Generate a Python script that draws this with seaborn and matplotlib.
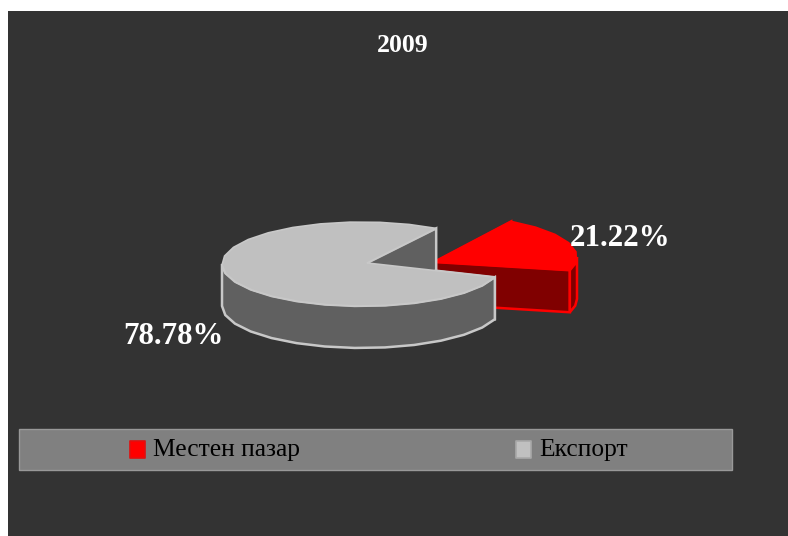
import numpy as np
import matplotlib
matplotlib.use('Agg')
import matplotlib.pyplot as plt
from matplotlib.patches import Rectangle, Polygon
import seaborn as sns

# Datos
categories = ['Местен пазар', 'Експорт']
shares = [21.22, 78.78]
share_labels = ['21.22%', '78.78%']
chart_title = '2009'

sns.set_theme(style='white')
plt.rcParams['font.family'] = ['Liberation Serif', 'DejaVu Serif']

top_colors = sns.color_palette(['#ff0000', '#c0c0c0'])
side_colors = sns.color_palette(['#800000', '#606060'])
edge_colors = sns.color_palette(['#ff0000', '#c8c8c8'])
handle_edges = sns.color_palette(['#e01010', '#a8a8a8'])

# Geometria del pastel, en pixeles de la figura
apex_x = [434, 367]
apex_y = [262, 263]
rim_x = [437, 362]
rim_y = [257, 264]
rx, ry = 140, 42
depth = 42
start_angle = 58
arc_step = 12

fig = plt.figure(figsize=(7.88, 5.36), dpi=100, facecolor='white')
ax = fig.add_axes([0, 0, 1, 1])
ax.set_xlim(0, 788)
ax.set_ylim(536, 0)
ax.axis('off')

ax.add_patch(Rectangle((8, 11), 780, 525, fc='#333333', ec='none', zorder=0))


def arc(x0, y0, a1, a2):
    # puntos del borde eliptico entre dos angulos (a1 > a2)
    n = max(int((a1 - a2) / arc_step), 2)
    t = np.radians(np.linspace(a1, a2, n + 1))
    return np.column_stack([x0 + rx * np.cos(t), y0 - ry * np.sin(t)])


def draw_slice(i, a1, a2, z):
    apex = np.array([apex_x[i], apex_y[i]])
    down = np.array([0, depth])
    rim = arc(rim_x[i], rim_y[i], a1, a2)
    top, side, edge = top_colors[i], side_colors[i], edge_colors[i]
    # paredes interiores
    for end in (rim[0], rim[-1]):
        pts = [apex, end, end + down, apex + down]
        ax.add_patch(Polygon(pts, fc=side, ec=edge, lw=1.8, zorder=z))
    # pared exterior visible (mitad inferior)
    if a2 < 0:
        t1, t2 = min(a1, 0), max(a2, -180)
    else:
        t1, t2 = min(a1, 360), max(a2, 180)
    if t1 > t2:
        front = arc(rim_x[i], rim_y[i], t1, t2)
        pts = np.vstack([front, (front + down)[::-1]])
        ax.add_patch(Polygon(pts, fc=side, ec=edge, lw=1.8, zorder=z + 0.1))
    ax.add_patch(Polygon(np.vstack([apex, rim]), fc=top, ec=edge, lw=1.2, zorder=z + 0.2))


# Los angulos salen de los porcentajes, en sentido horario
spans = np.array(shares) / sum(shares) * 360
a_start = start_angle
for i, span in enumerate(spans):
    draw_slice(i, a_start, a_start - span, z=2 + i)
    a_start -= span

ax.text(403, 45, chart_title, color='white', fontsize=18.5, fontweight='bold', ha='center', va='center')
ax.text(620.5, 238, share_labels[0], color='white', fontsize=22.3, fontweight='bold', ha='center', va='center', zorder=6)
ax.text(173, 337, share_labels[1], color='white', fontsize=22.3, fontweight='bold', ha='center', va='center', zorder=6)

# Leyenda
ax.add_patch(Rectangle((19, 429), 713, 41, fc='#808080', ec='#999999', lw=1, zorder=1))
for name, color, edge, hx in zip(categories, top_colors, handle_edges, [130, 516]):
    ax.add_patch(Rectangle((hx, 441), 15, 17, fc=color, ec=edge, lw=1.2, joinstyle='round', zorder=2))
    ax.text(hx + 23, 450, name, color='#000000', fontsize=18.4, ha='left', va='center', zorder=2)

fig.savefig('out.png', dpi=100)
